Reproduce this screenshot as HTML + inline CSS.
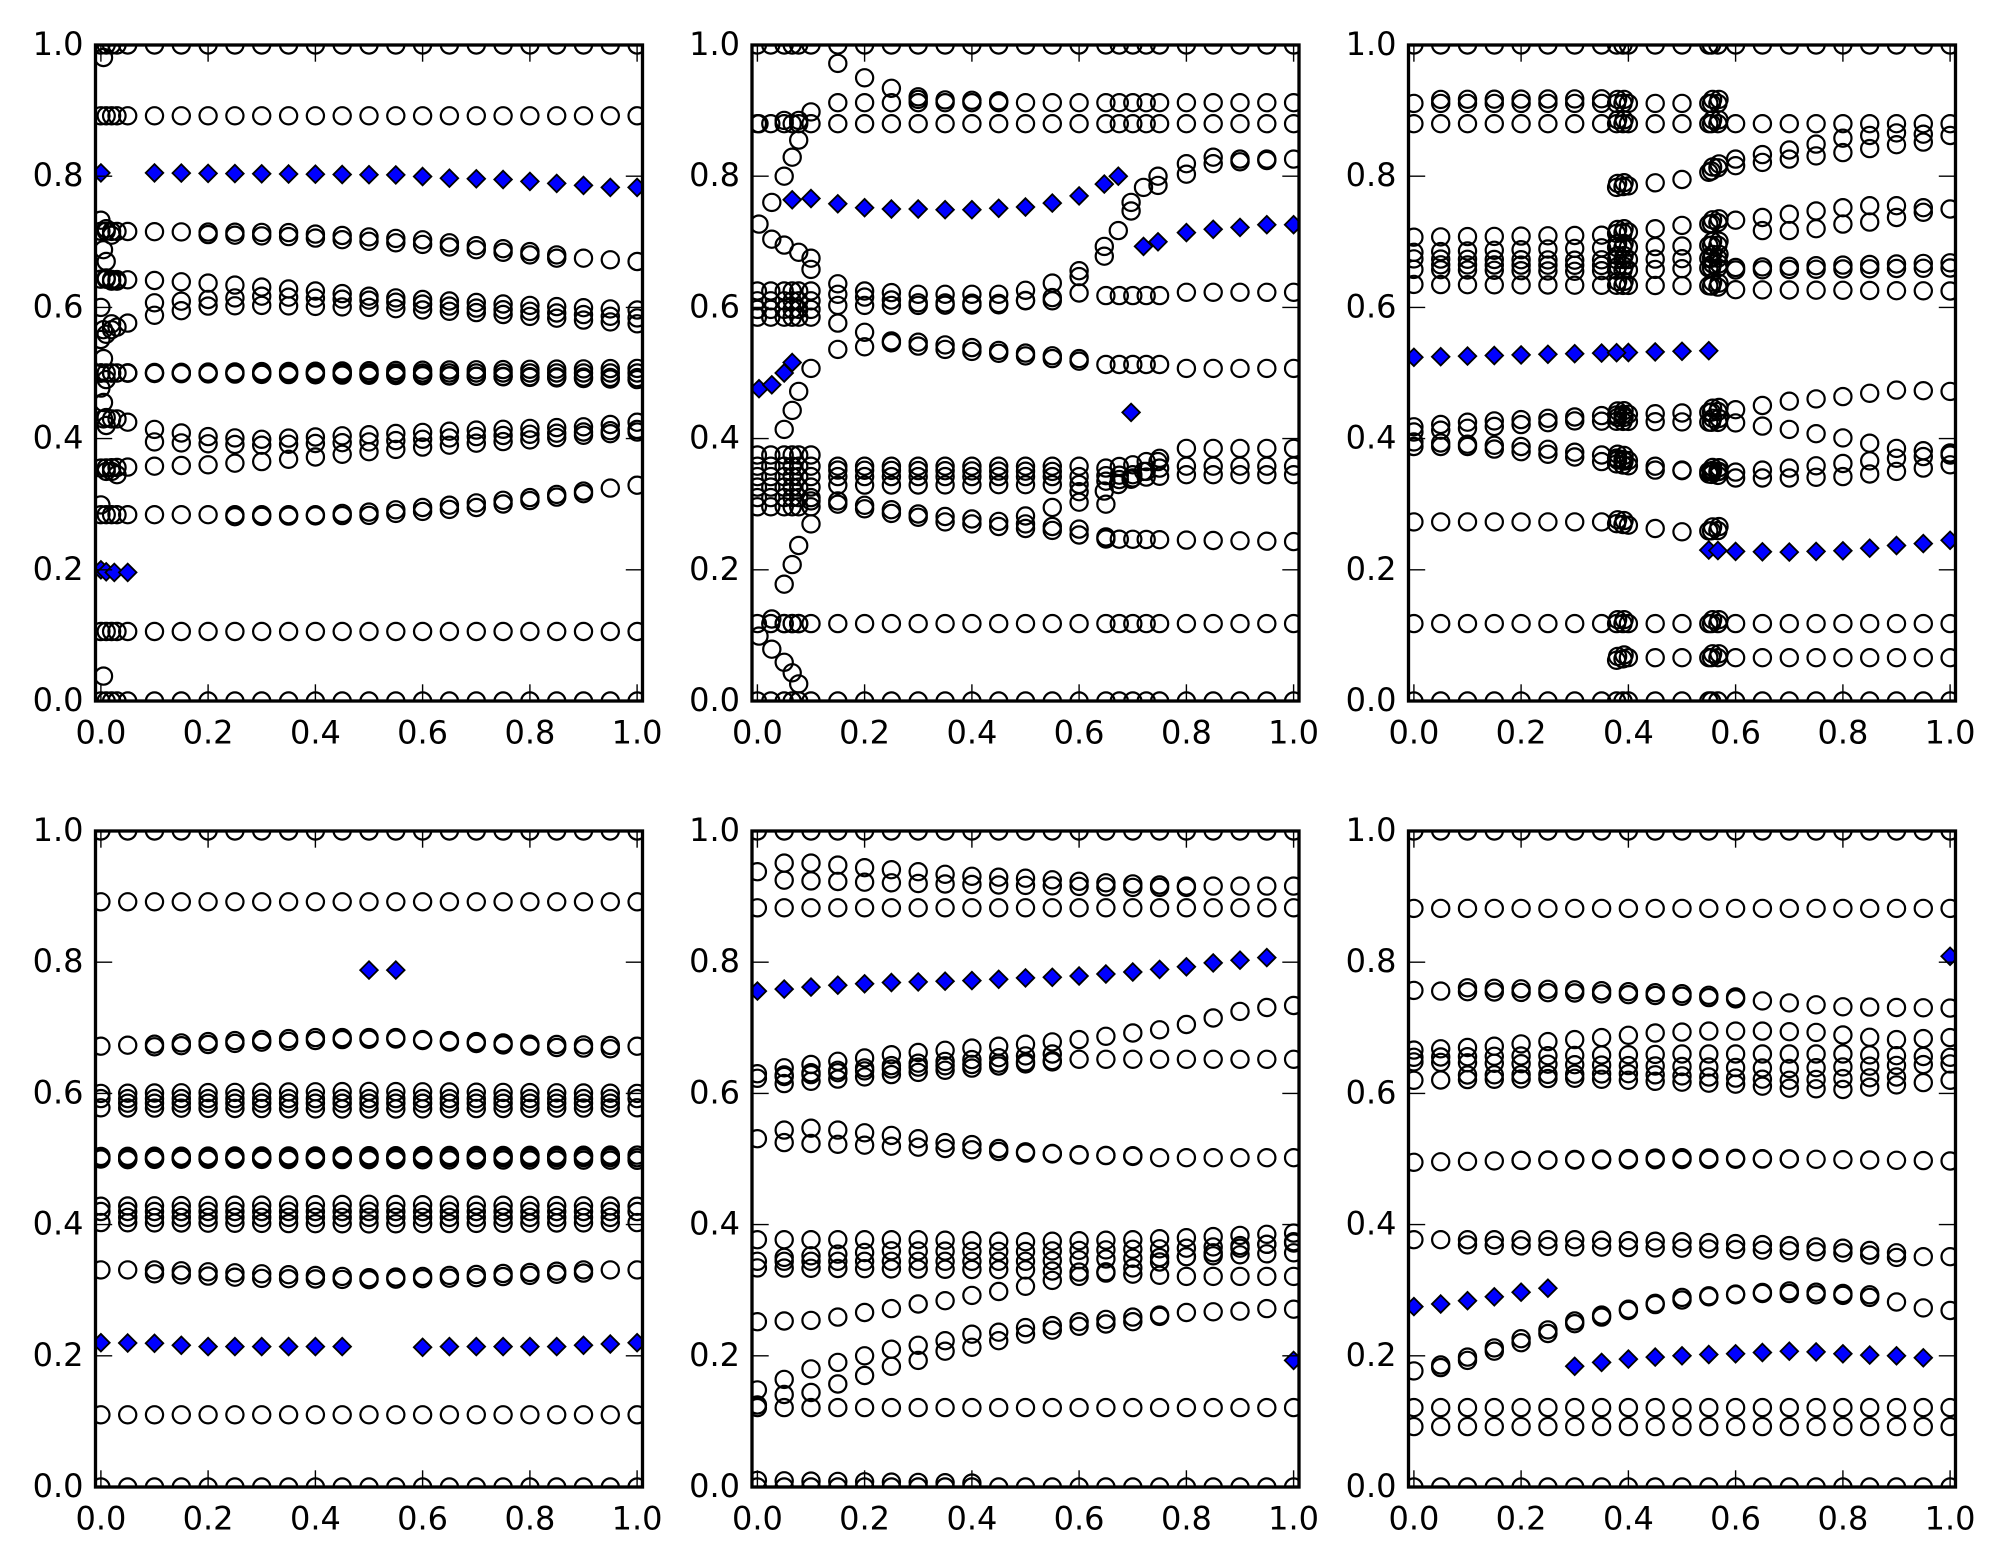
<!DOCTYPE html>
<html><head><meta charset="utf-8"><style>
html,body{margin:0;padding:0;background:#fff}
svg{display:block}
text{font-family:"DejaVu Sans","Liberation Sans",sans-serif;font-size:32px;fill:#000}
</style></head><body>
<svg id="fig" xmlns="http://www.w3.org/2000/svg" width="2004" height="1565" viewBox="0 0 2004 1565">
<rect width="2004" height="1565" fill="#fff"/>
<defs>
<clipPath id="k0"><rect x="95.5" y="45" width="547" height="656"/></clipPath>
<clipPath id="k1"><rect x="752" y="45" width="547" height="656"/></clipPath>
<clipPath id="k2"><rect x="1408.5" y="45" width="547" height="656"/></clipPath>
<clipPath id="k3"><rect x="95.5" y="831" width="547" height="656"/></clipPath>
<clipPath id="k4"><rect x="752" y="831" width="547" height="656"/></clipPath>
<clipPath id="k5"><rect x="1408.5" y="831" width="547" height="656"/></clipPath>
</defs>
<g clip-path="url(#k0)"><g id="c0" fill="none" stroke="#000" stroke-width="2.2"></g><g id="d0" fill="#0000ff" stroke="#000" stroke-width="1.8"></g></g>
<g clip-path="url(#k1)"><g id="c1" fill="none" stroke="#000" stroke-width="2.2"></g><g id="d1" fill="#0000ff" stroke="#000" stroke-width="1.8"></g></g>
<g clip-path="url(#k2)"><g id="c2" fill="none" stroke="#000" stroke-width="2.2"></g><g id="d2" fill="#0000ff" stroke="#000" stroke-width="1.8"></g></g>
<g clip-path="url(#k3)"><g id="c3" fill="none" stroke="#000" stroke-width="2.2"></g><g id="d3" fill="#0000ff" stroke="#000" stroke-width="1.8"></g></g>
<g clip-path="url(#k4)"><g id="c4" fill="none" stroke="#000" stroke-width="2.2"></g><g id="d4" fill="#0000ff" stroke="#000" stroke-width="1.8"></g></g>
<g clip-path="url(#k5)"><g id="c5" fill="none" stroke="#000" stroke-width="2.2"></g><g id="d5" fill="#0000ff" stroke="#000" stroke-width="1.8"></g></g>
<g id="ticks" stroke="#000" stroke-width="1.4"></g>
<g fill="none" stroke="#000" stroke-width="3.3">
<rect x="95.5" y="45" width="547" height="656"/>
<rect x="752" y="45" width="547" height="656"/>
<rect x="1408.5" y="45" width="547" height="656"/>
<rect x="95.5" y="831" width="547" height="656"/>
<rect x="752" y="831" width="547" height="656"/>
<rect x="1408.5" y="831" width="547" height="656"/>
</g>
<g text-anchor="end">
<text x="83.5" y="55">1.0</text><text x="83.5" y="186.2">0.8</text><text x="83.5" y="317.4">0.6</text><text x="83.5" y="448.6">0.4</text><text x="83.5" y="579.8">0.2</text><text x="83.5" y="711">0.0</text>
<text x="740" y="55">1.0</text><text x="740" y="186.2">0.8</text><text x="740" y="317.4">0.6</text><text x="740" y="448.6">0.4</text><text x="740" y="579.8">0.2</text><text x="740" y="711">0.0</text>
<text x="1396.5" y="55">1.0</text><text x="1396.5" y="186.2">0.8</text><text x="1396.5" y="317.4">0.6</text><text x="1396.5" y="448.6">0.4</text><text x="1396.5" y="579.8">0.2</text><text x="1396.5" y="711">0.0</text>
<text x="83.5" y="841">1.0</text><text x="83.5" y="972.2">0.8</text><text x="83.5" y="1103.4">0.6</text><text x="83.5" y="1234.6">0.4</text><text x="83.5" y="1365.8">0.2</text><text x="83.5" y="1497">0.0</text>
<text x="740" y="841">1.0</text><text x="740" y="972.2">0.8</text><text x="740" y="1103.4">0.6</text><text x="740" y="1234.6">0.4</text><text x="740" y="1365.8">0.2</text><text x="740" y="1497">0.0</text>
<text x="1396.5" y="841">1.0</text><text x="1396.5" y="972.2">0.8</text><text x="1396.5" y="1103.4">0.6</text><text x="1396.5" y="1234.6">0.4</text><text x="1396.5" y="1365.8">0.2</text><text x="1396.5" y="1497">0.0</text>
</g>
<g text-anchor="middle">
<text x="100.9" y="743.5">0.0</text><text x="208.1" y="743.5">0.2</text><text x="315.4" y="743.5">0.4</text><text x="422.6" y="743.5">0.6</text><text x="529.9" y="743.5">0.8</text><text x="637.1" y="743.5">1.0</text>
<text x="757.4" y="743.5">0.0</text><text x="864.6" y="743.5">0.2</text><text x="971.9" y="743.5">0.4</text><text x="1079.1" y="743.5">0.6</text><text x="1186.4" y="743.5">0.8</text><text x="1293.6" y="743.5">1.0</text>
<text x="1413.9" y="743.5">0.0</text><text x="1521.1" y="743.5">0.2</text><text x="1628.4" y="743.5">0.4</text><text x="1735.6" y="743.5">0.6</text><text x="1842.9" y="743.5">0.8</text><text x="1950.1" y="743.5">1.0</text>
<text x="100.9" y="1529.5">0.0</text><text x="208.1" y="1529.5">0.2</text><text x="315.4" y="1529.5">0.4</text><text x="422.6" y="1529.5">0.6</text><text x="529.9" y="1529.5">0.8</text><text x="637.1" y="1529.5">1.0</text>
<text x="757.4" y="1529.5">0.0</text><text x="864.6" y="1529.5">0.2</text><text x="971.9" y="1529.5">0.4</text><text x="1079.1" y="1529.5">0.6</text><text x="1186.4" y="1529.5">0.8</text><text x="1293.6" y="1529.5">1.0</text>
<text x="1413.9" y="1529.5">0.0</text><text x="1521.1" y="1529.5">0.2</text><text x="1628.4" y="1529.5">0.4</text><text x="1735.6" y="1529.5">0.6</text><text x="1842.9" y="1529.5">0.8</text><text x="1950.1" y="1529.5">1.0</text>
</g>
</svg>
<script>
(function(){
var W=547,H=656;
var PAN=[[95.5,45],[752,45],[1408.5,45],[95.5,831],[752,831],[1408.5,831]];
var G=[];for(var i=0;i<=20;i++)G.push(+(i*0.05).toFixed(3));
var circ=[[],[],[],[],[],[]],dia=[[],[],[],[],[],[]];
function interp(p,x){if(x<=p[0][0])return p[0][1];for(var i=1;i<p.length;i++){if(x<=p[i][0]){var a=p[i-1],b=p[i];return a[1]+(b[1]-a[1])*(x-a[0])/(b[0]-a[0]);}}return p[p.length-1][1];}
function C(p,x,y){circ[p].push([x,y]);}
function D(p,x,y){dia[p].push([x,y]);}
function trk(p,pts,xs){xs=xs||G;var x0=pts[0][0],x1=pts[pts.length-1][0];xs.forEach(function(x){if(x>=x0-1e-6&&x<=x1+1e-6)C(p,x,interp(pts,x));});}
function dtrk(p,pts,xs){xs=xs||G;var x0=pts[0][0],x1=pts[pts.length-1][0];xs.forEach(function(x){if(x>=x0-1e-6&&x<=x1+1e-6)D(p,x,interp(pts,x));});}
function row(p,y,xs){trk(p,[[0,y],[1,y]],xs);}
function pts(p,l){l.forEach(function(q){C(p,q[0],q[1]);});}
function dpts(p,l){l.forEach(function(q){D(p,q[0],q[1]);});}
function grid(p,xs,ys){xs.forEach(function(x){ys.forEach(function(y){C(p,x,y);});});}

/* ---------- Panel 0 ---------- */
var X0=G.concat([0.01,0.02,0.03]);
row(0,1,X0);row(0,0,X0);row(0,0.892,X0);row(0,0.106,X0);
trk(0,[[0,0.716],[0.35,0.714],[0.6,0.703],[0.8,0.685],[0.9,0.675],[1,0.67]],X0);
trk(0,[[0.2,0.711],[0.35,0.708],[0.6,0.696],[0.8,0.68],[0.85,0.675]]);
trk(0,[[0,0.643],[0.1,0.641],[0.2,0.637],[0.3,0.631],[0.4,0.625],[0.5,0.617],[0.6,0.612],[0.8,0.603],[1,0.596]],X0);
trk(0,[[0.1,0.607],[0.3,0.617],[0.5,0.611],[0.7,0.599],[1,0.584]]);
trk(0,[[0.05,0.576],[0.1,0.588],[0.2,0.602],[0.3,0.603],[0.5,0.6],[0.7,0.592],[1,0.575]]);
row(0,0.5,X0);
trk(0,[[0,0.5],[1,0.507]]);trk(0,[[0,0.5],[1,0.493]]);trk(0,[[0.4,0.5],[1,0.49]]);
trk(0,[[0.05,0.425],[0.1,0.414],[0.2,0.403],[0.3,0.399],[0.5,0.406],[0.7,0.413],[0.9,0.418],[1,0.425]]);
trk(0,[[0.1,0.395],[0.2,0.392],[0.3,0.39],[0.5,0.395],[0.7,0.403],[0.9,0.41],[1,0.414]]);
trk(0,[[0,0.355],[0.1,0.358],[0.2,0.36],[0.3,0.365],[0.4,0.372],[0.5,0.38],[0.6,0.387],[0.7,0.393],[0.8,0.398],[0.9,0.405],[1,0.41]],X0);
trk(0,[[0,0.284],[0.4,0.284],[0.5,0.288],[0.6,0.295],[0.7,0.302],[0.8,0.31],[0.9,0.32],[1,0.329]],X0);
trk(0,[[0.25,0.281],[0.5,0.283],[0.7,0.295],[0.9,0.316]]);
pts(0,[[0.005,0.981],[0,0.733],[0.005,0.688],[0.01,0.67],[0,0.6],[0.005,0.566],[0.01,0.559],[0.02,0.566],[0,0.551],[0.005,0.522],[0,0.477],[0.005,0.455],[0.01,0.432],[0.02,0.43],[0,0.299],[0.005,0.038],[0.01,0.72],[0.02,0.71],[0.01,0.645],[0.02,0.64],[0.03,0.64],[0.01,0.35],[0.02,0.35],[0.03,0.345],[0.005,0.43],[0.01,0.42],[0.02,0.5],[0.01,0.49],[0.03,0.43],[0.03,0.57],[0.02,0.575]]);
D(0,0,0.805);
dtrk(0,[[0.1,0.805],[0.55,0.802],[0.65,0.797],[0.75,0.795],[0.8,0.792],[0.85,0.789],[0.9,0.786],[0.95,0.783],[1,0.783]]);
dpts(0,[[0,0.2],[0.01,0.197],[0.025,0.196],[0.05,0.196]]);

/* ---------- Panel 1 ---------- */
var X1=G.concat([0.025,0.065,0.077,0.675,0.725]);
var N1=[0,0.025,0.05,0.065,0.077,0.1];
row(1,1,X1);row(1,0,X1);row(1,0.88,X1);row(1,0.118,X1);
trk(1,[[0.1,0.898],[0.15,0.912],[1,0.912]],X1);
trk(1,[[0.3,0.917],[0.45,0.915]]);
pts(1,[[0.15,0.972],[0.2,0.95],[0.25,0.934],[0.3,0.921]]);
pts(1,[[0.077,0.855],[0.065,0.829],[0.05,0.80],[0.027,0.76],[0.003,0.727],[0.027,0.704],[0.05,0.695],[0.077,0.684],[0.1,0.675],[0.1,0.658],[0.003,0.88],[0.05,0.885],[0.077,0.885]]);
dpts(1,[[0.065,0.764],[0.1,0.766],[0.15,0.758],[0.2,0.752],[0.25,0.75],[0.3,0.75],[0.35,0.749],[0.4,0.749],[0.45,0.751],[0.5,0.753],[0.55,0.759],[0.6,0.77],[0.647,0.788],[0.673,0.80]]);
dpts(1,[[0.72,0.693],[0.747,0.70],[0.8,0.714],[0.85,0.719],[0.9,0.722],[0.95,0.726],[1,0.726]]);
D(1,0.697,0.44);
dpts(1,[[0.003,0.476],[0.027,0.482],[0.05,0.50],[0.065,0.516]]);
pts(1,[[0.6,0.656],[0.647,0.693],[0.647,0.678],[0.673,0.717],[0.697,0.76],[0.697,0.747],[0.72,0.783],[0.747,0.80],[0.747,0.786],[0.8,0.819],[0.8,0.803],[0.85,0.829],[0.85,0.819],[0.9,0.826],[0.9,0.822],[0.95,0.826],[0.95,0.824],[1,0.826]]);
grid(1,N1,[0.625,0.61,0.597,0.585]);
trk(1,[[0.15,0.636],[0.2,0.625],[0.3,0.62],[0.45,0.62],[0.5,0.626],[0.55,0.637],[0.6,0.647]],X1);
trk(1,[[0.15,0.62],[0.3,0.607],[0.45,0.606],[0.55,0.615],[0.6,0.622],[0.65,0.618],[0.75,0.618],[0.8,0.623],[1,0.623]],X1);
trk(1,[[0.15,0.603],[0.2,0.603],[0.3,0.603],[0.45,0.604],[0.5,0.61],[0.55,0.61]],X1);
pts(1,[[0.15,0.576],[0.2,0.562],[0.25,0.549]]);
trk(1,[[0.1,0.507],[0.15,0.536],[0.2,0.54],[0.25,0.546],[0.3,0.541],[0.35,0.536],[0.4,0.533],[0.45,0.53],[0.5,0.526],[0.55,0.522],[0.6,0.518],[0.65,0.513],[0.75,0.513],[0.8,0.507],[1,0.507]],X1);
trk(1,[[0.3,0.547],[0.6,0.522]]);
pts(1,[[0.077,0.472],[0.065,0.443],[0.05,0.414]]);
grid(1,N1,[0.375,0.358,0.342,0.326,0.31,0.296]);
trk(1,[[0.15,0.358],[0.6,0.358],[0.65,0.355],[0.7,0.36],[0.75,0.37],[0.8,0.385],[1,0.385]],X1);
trk(1,[[0.15,0.342],[0.6,0.342],[0.7,0.345],[0.75,0.355],[0.8,0.358],[1,0.358]],X1);
trk(1,[[0.15,0.329],[0.6,0.33],[0.65,0.335],[0.7,0.34],[0.8,0.345],[1,0.345]],X1);
trk(1,[[0.15,0.352],[0.55,0.35]]);
pts(1,[[0.647,0.32],[0.673,0.33],[0.697,0.338],[0.72,0.35],[0.747,0.365]]);
trk(1,[[0.1,0.305],[0.15,0.30],[0.2,0.293],[0.25,0.286],[0.3,0.28],[0.35,0.273],[0.4,0.27],[0.45,0.266],[0.5,0.263],[0.55,0.26],[0.6,0.253],[0.65,0.247],[1,0.243]],X1);
trk(1,[[0.15,0.305],[0.3,0.285],[0.5,0.27],[0.6,0.262],[0.65,0.25]]);
pts(1,[[0.55,0.295],[0.6,0.303],[0.6,0.319],[0.65,0.3],[0.5,0.282]]);
pts(1,[[0.1,0.27],[0.077,0.237],[0.065,0.208],[0.05,0.178]]);
pts(1,[[0.003,0.099],[0.027,0.079],[0.05,0.059],[0.065,0.043],[0.077,0.026],[0.027,0.125],[0.05,0.118],[0.065,0.118],[0.077,0.118]]);

/* ---------- Panel 2 ---------- */
var CL=[0.378,0.39,0.555,0.567];
var X2=G.concat(CL);
row(2,1,X2);row(2,0,X2);row(2,0.88,X2);row(2,0.118,X2);
trk(2,[[0,0.911],[0.575,0.911]],X2);
trk(2,[[0.05,0.917],[0.35,0.918]]);
trk(2,[[0.378,0.783],[0.45,0.79],[0.5,0.795],[0.55,0.806],[0.6,0.826],[0.7,0.84],[0.8,0.858],[0.9,0.866],[1,0.862]],X2);
trk(2,[[0.6,0.816],[0.7,0.826],[0.8,0.836],[0.9,0.848],[0.95,0.852]]);
trk(2,[[0,0.707],[0.35,0.71],[0.45,0.72],[0.5,0.725],[0.55,0.727],[0.6,0.733],[0.65,0.737],[0.7,0.742],[0.75,0.747],[0.8,0.752],[0.85,0.755],[0.9,0.755],[0.95,0.752],[1,0.75]],X2);
trk(2,[[0.65,0.717],[0.7,0.717],[0.75,0.72],[0.8,0.727],[0.85,0.73],[0.9,0.737],[0.95,0.745]]);
trk(2,[[0,0.684],[0.3,0.69],[0.575,0.695]],X2);
trk(2,[[0,0.674],[0.3,0.672],[0.575,0.675]],X2);
trk(2,[[0,0.658],[0.3,0.655],[0.55,0.66],[1,0.668]],X2);
trk(2,[[0.6,0.657],[1,0.66]]);
trk(2,[[0,0.635],[0.55,0.633],[0.6,0.627],[1,0.625]],X2);
trk(2,[[0.05,0.665],[0.35,0.664]]);
trk(2,[[0,0.418],[0.1,0.425],[0.3,0.433],[0.4,0.437],[0.55,0.44],[0.6,0.444],[0.7,0.457],[0.8,0.464],[0.9,0.474],[1,0.472]],X2);
trk(2,[[0,0.41],[0.3,0.427],[0.55,0.425],[0.6,0.424],[0.7,0.414],[0.8,0.401],[0.9,0.385],[1,0.378]],X2);
trk(2,[[0,0.388],[0.1,0.388],[0.2,0.38],[0.3,0.372],[0.35,0.365],[0.45,0.352],[0.55,0.35],[0.6,0.349],[0.7,0.355],[0.8,0.362],[0.9,0.37],[1,0.375]],X2);
trk(2,[[0,0.395],[0.2,0.388],[0.35,0.375],[0.45,0.358],[0.6,0.34],[0.7,0.34],[0.8,0.342],[0.9,0.35],[1,0.36]],X2);
trk(2,[[0,0.273],[0.35,0.273],[0.45,0.263],[0.5,0.258],[0.575,0.26]],X2);
trk(2,[[0.378,0.062],[0.4,0.066],[1,0.066]],X2);
/* thicken clusters slightly */
(function(){var add=[];circ[2].forEach(function(q){if(CL.indexOf(q[0])>=0&&q[1]>0.01&&q[1]<0.99){add.push([q[0]+0.002,q[1]+0.006]);}});add.forEach(function(q){circ[2].push(q);});})();
dtrk(2,[[0,0.524],[0.55,0.534]],G.concat([0.378]));
dtrk(2,[[0.55,0.23],[0.6,0.228],[0.7,0.227],[0.8,0.229],[0.85,0.233],[0.9,0.237],[0.95,0.24],[1,0.245]],G.concat([0.567]));

/* ---------- Panel 3 ---------- */
row(3,1);row(3,0);row(3,0.892);row(3,0.11);
dpts(3,[[0.5,0.788],[0.55,0.788]]);
trk(3,[[0,0.672],[0.1,0.675],[0.2,0.679],[0.3,0.682],[0.4,0.685],[0.55,0.685],[0.6,0.682],[0.7,0.679],[0.8,0.675],[0.9,0.674],[1,0.672]]);
trk(3,[[0.1,0.671],[0.3,0.678],[0.45,0.682],[0.55,0.683],[0.7,0.676],[0.85,0.67],[0.95,0.668]]);
trk(3,[[0,0.6],[0.5,0.603],[1,0.6]]);trk(3,[[0,0.592],[1,0.592]]);trk(3,[[0.05,0.585],[0.95,0.585]]);trk(3,[[0,0.578],[0.5,0.576],[1,0.578]]);
row(3,0.502);trk(3,[[0,0.5],[1,0.498]]);trk(3,[[0,0.504],[1,0.506]]);trk(3,[[0.05,0.499],[0.95,0.505]]);
trk(3,[[0,0.428],[0.5,0.431],[1,0.428]]);row(3,0.42);trk(3,[[0.05,0.411],[0.95,0.411]]);trk(3,[[0,0.403],[0.5,0.401],[1,0.403]]);
trk(3,[[0,0.331],[0.1,0.331],[0.2,0.328],[0.3,0.325],[0.45,0.321],[0.5,0.319],[0.6,0.321],[0.7,0.324],[0.8,0.327],[0.9,0.331],[1,0.331]]);
trk(3,[[0.1,0.325],[0.3,0.318],[0.5,0.316],[0.7,0.319],[0.9,0.326]]);
dtrk(3,[[0,0.22],[0.1,0.219],[0.15,0.216],[0.2,0.214],[0.45,0.214]]);
dtrk(3,[[0.6,0.213],[0.65,0.214],[0.85,0.214],[0.9,0.216],[0.95,0.218],[1,0.22]]);

/* ---------- Panel 4 ---------- */
row(4,1);row(4,0);row(4,0.883);row(4,0.121);
trk(4,[[0,0.01],[0.4,0.006]]);
trk(4,[[0,0.938],[0.05,0.951],[0.1,0.951],[0.15,0.948],[0.2,0.944],[0.25,0.941],[0.3,0.938],[0.35,0.934],[0.4,0.931],[0.5,0.928],[0.65,0.921],[0.8,0.916],[1,0.916]]);
trk(4,[[0.05,0.925],[0.3,0.92],[0.5,0.917],[0.7,0.914],[0.8,0.914]]);
dtrk(4,[[0,0.756],[0.05,0.759],[0.1,0.762],[0.15,0.765],[0.2,0.767],[0.25,0.769],[0.3,0.77],[0.4,0.772],[0.45,0.774],[0.5,0.776],[0.55,0.777],[0.6,0.779],[0.65,0.782],[0.7,0.785],[0.75,0.789],[0.8,0.793],[0.85,0.799],[0.9,0.803],[0.95,0.807]]);
D(4,1,0.193);
trk(4,[[0,0.63],[0.05,0.639],[0.15,0.649],[0.25,0.659],[0.4,0.669],[0.5,0.675],[0.6,0.682],[0.7,0.692],[0.75,0.697],[0.8,0.705],[0.85,0.715],[0.9,0.725],[0.95,0.731],[1,0.734]]);
trk(4,[[0,0.623],[0.3,0.64],[0.6,0.652],[1,0.652]]);
trk(4,[[0.05,0.615],[0.3,0.632],[0.5,0.645],[0.55,0.648]]);
trk(4,[[0.05,0.628],[0.3,0.646],[0.55,0.66]]);
trk(4,[[0,0.531],[0.05,0.544],[0.1,0.547],[0.15,0.544],[0.2,0.54],[0.25,0.536],[0.3,0.531],[0.35,0.525],[0.4,0.522],[0.45,0.516],[0.5,0.511],[0.6,0.506],[0.7,0.505],[0.75,0.502],[1,0.502]]);
trk(4,[[0.05,0.525],[0.2,0.521],[0.3,0.518],[0.4,0.514],[0.5,0.509],[0.7,0.504]]);
trk(4,[[0,0.377],[0.3,0.377],[0.5,0.374],[0.7,0.377],[0.8,0.38],[1,0.387]]);
trk(4,[[0.05,0.35],[0.25,0.36],[0.5,0.359],[0.8,0.364],[1,0.372]]);
trk(4,[[0,0.344],[0.5,0.344],[0.8,0.351],[1,0.357]]);
trk(4,[[0,0.334],[0.5,0.331],[0.8,0.321],[1,0.321]]);
trk(4,[[0,0.252],[0.1,0.254],[0.15,0.259],[0.2,0.266],[0.25,0.272],[0.3,0.279],[0.35,0.284],[0.4,0.292],[0.45,0.298],[0.5,0.306],[0.55,0.315],[0.6,0.321],[0.65,0.328],[0.7,0.334],[0.75,0.343],[0.8,0.351],[0.85,0.357],[0.9,0.364],[0.95,0.37],[1,0.374]]);
trk(4,[[0,0.148],[0.05,0.164],[0.1,0.18],[0.15,0.19],[0.2,0.2],[0.25,0.21],[0.3,0.216],[0.35,0.223],[0.4,0.233],[0.45,0.236],[0.5,0.243],[0.55,0.246],[0.6,0.252],[0.7,0.259],[0.75,0.262],[0.8,0.266],[0.9,0.268],[0.95,0.272],[1,0.271]]);
trk(4,[[0,0.125],[0.05,0.141],[0.1,0.144],[0.15,0.157],[0.2,0.17],[0.25,0.184],[0.3,0.193],[0.35,0.207],[0.4,0.213],[0.45,0.223],[0.5,0.233],[0.55,0.239],[0.6,0.245],[0.7,0.252],[0.75,0.26]]);

/* ---------- Panel 5 ---------- */
row(5,1);row(5,0);row(5,0.882);row(5,0.121);row(5,0.092);
D(5,1,0.809);
trk(5,[[0,0.757],[0.1,0.755],[0.3,0.753],[0.5,0.748],[0.6,0.744],[0.65,0.741],[0.7,0.738],[0.8,0.732],[1,0.73]]);
trk(5,[[0.1,0.761],[0.3,0.758],[0.5,0.752],[0.6,0.747]]);
trk(5,[[0,0.666],[0.15,0.672],[0.25,0.679],[0.3,0.682],[0.35,0.685],[0.45,0.692],[0.55,0.695],[0.65,0.695],[0.75,0.693],[0.8,0.689],[0.9,0.682],[1,0.685]]);
trk(5,[[0,0.655],[0.5,0.66],[0.8,0.66],[1,0.655]]);
trk(5,[[0,0.648],[0.5,0.641],[0.7,0.638],[1,0.645]]);
trk(5,[[0,0.62],[0.3,0.623],[0.6,0.614],[0.7,0.608],[0.8,0.606],[1,0.62]]);
trk(5,[[0.1,0.628],[0.4,0.63],[0.7,0.62],[0.9,0.625]]);
trk(5,[[0,0.495],[0.5,0.502],[1,0.497]]);
trk(5,[[0.2,0.498],[0.7,0.5]]);
trk(5,[[0,0.377],[0.3,0.377],[0.5,0.374],[0.7,0.368],[0.8,0.364],[0.9,0.357],[0.95,0.351],[1,0.351]]);
trk(5,[[0.1,0.369],[0.3,0.366],[0.5,0.364],[0.7,0.36],[0.8,0.357],[0.9,0.35]]);
dtrk(5,[[0,0.275],[0.05,0.279],[0.1,0.284],[0.15,0.29],[0.2,0.297],[0.25,0.303]]);
dtrk(5,[[0.3,0.184],[0.35,0.19],[0.4,0.195],[0.45,0.198],[0.5,0.2],[0.55,0.202],[0.6,0.203],[0.7,0.207],[0.75,0.206],[0.8,0.203],[0.85,0.201],[0.9,0.2],[0.95,0.197]]);
trk(5,[[0,0.177],[0.05,0.182],[0.1,0.193],[0.15,0.207],[0.2,0.22],[0.25,0.234],[0.3,0.249],[0.35,0.259],[0.4,0.269],[0.45,0.278],[0.5,0.285],[0.55,0.29],[0.6,0.293],[0.65,0.295],[0.7,0.295],[0.75,0.293],[0.8,0.292],[0.85,0.289],[0.9,0.282],[0.95,0.273],[1,0.269]]);
trk(5,[[0.05,0.186],[0.1,0.198],[0.2,0.226],[0.3,0.253],[0.5,0.289],[0.7,0.299],[0.85,0.293]]);

/* ---------- render ---------- */
var tk='';
for(var p=0;p<6;p++){
  var L=PAN[p][0],T=PAN[p][1];
  var fx=function(x){return L+(x+0.01)/1.02*W;},fy=function(y){return T+(1-y)*H;};
  var s='';
  circ[p].forEach(function(q){s+='<circle cx="'+fx(q[0]).toFixed(1)+'" cy="'+fy(q[1]).toFixed(1)+'" r="8.6"/>';});
  document.getElementById('c'+p).innerHTML=s;
  s='';
  var r=8.8;
  dia[p].forEach(function(q){var cx=fx(q[0]),cy=fy(q[1]);
    s+='<path d="M'+cx.toFixed(1)+' '+(cy-r).toFixed(1)+'L'+(cx+r).toFixed(1)+' '+cy.toFixed(1)+'L'+cx.toFixed(1)+' '+(cy+r).toFixed(1)+'L'+(cx-r).toFixed(1)+' '+cy.toFixed(1)+'Z"/>';});
  document.getElementById('d'+p).innerHTML=s;
  for(var k=0;k<=5;k++){
    var v=k*0.2,X=fx(v),Y=fy(v),B=T+H,R=L+W,len=16.7;
    tk+='<line x1="'+X.toFixed(1)+'" y1="'+B+'" x2="'+X.toFixed(1)+'" y2="'+(B-len)+'"/>';
    tk+='<line x1="'+X.toFixed(1)+'" y1="'+T+'" x2="'+X.toFixed(1)+'" y2="'+(T+len)+'"/>';
    tk+='<line x1="'+L+'" y1="'+Y.toFixed(1)+'" x2="'+(L+len)+'" y2="'+Y.toFixed(1)+'"/>';
    tk+='<line x1="'+R+'" y1="'+Y.toFixed(1)+'" x2="'+(R-len)+'" y2="'+Y.toFixed(1)+'"/>';
  }
}
document.getElementById('ticks').innerHTML=tk;
})();
</script>
</body></html>
